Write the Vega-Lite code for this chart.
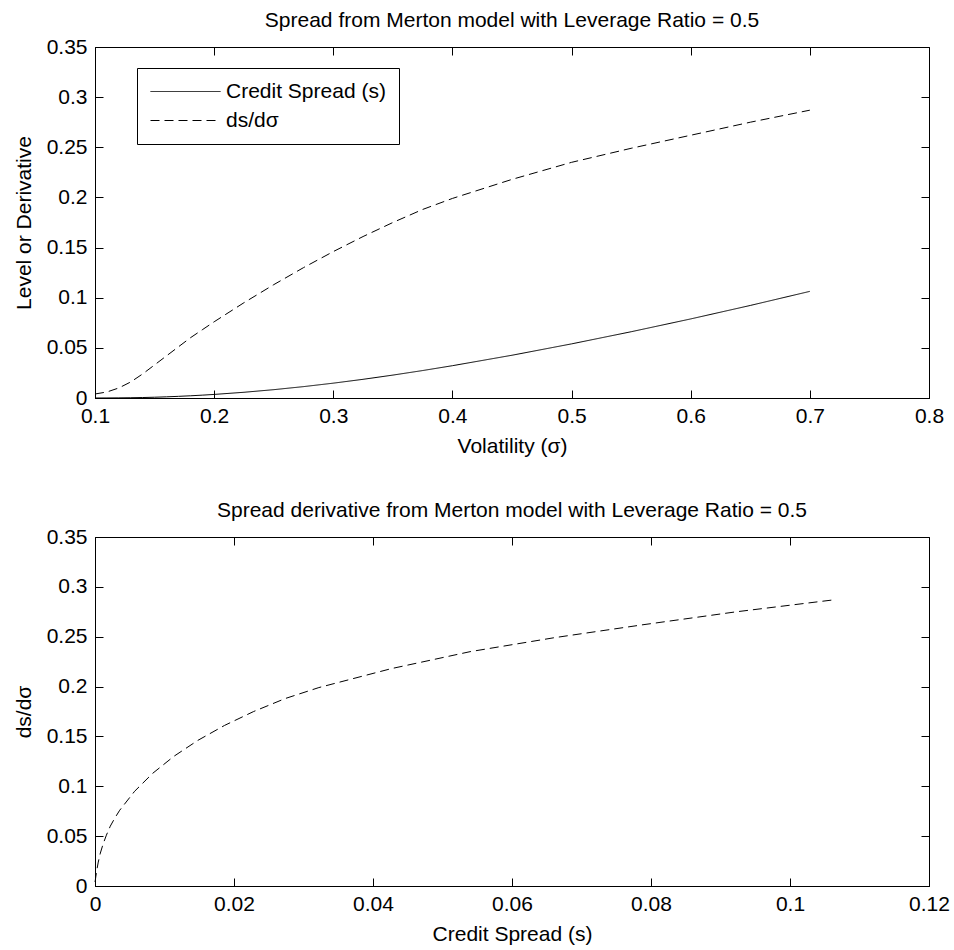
{
  "$schema": "https://vega.github.io/schema/vega-lite/v6.json",
  "background": "white",
  "padding": {"left": 12, "top": 9, "right": 10, "bottom": 5},
  "config": {
    "font": "Liberation Sans",
    "view": {"stroke": "black", "strokeWidth": 1},
    "axis": {
      "labelFont": "Liberation Sans", "labelFontSize": 21, "labelColor": "black",
      "titleFont": "Liberation Sans", "titleFontSize": 21, "titleFontWeight": "normal", "titleColor": "black",
      "domainColor": "black", "tickColor": "black", "grid": false,
      "labelFlush": false, "labelOverlap": false, "labelBound": false,
      "tickSize": -8, "labelExpr": "toString(datum.value)"
    },
    "title": {"font": "Liberation Sans", "fontSize": 21, "fontWeight": "normal", "color": "black", "offset": 5},
    "concat": {"spacing": 42}
  },
  "datasets": {
    "merton": [
      {"sigma": 0.10, "spread": 0.00000, "deriv": 0.004},
      {"sigma": 0.11, "spread": 0.00005, "deriv": 0.006},
      {"sigma": 0.12, "spread": 0.00013, "deriv": 0.010},
      {"sigma": 0.13, "spread": 0.00026, "deriv": 0.016},
      {"sigma": 0.14, "spread": 0.00047, "deriv": 0.024},
      {"sigma": 0.15, "spread": 0.00077, "deriv": 0.033},
      {"sigma": 0.16, "spread": 0.00116, "deriv": 0.042},
      {"sigma": 0.17, "spread": 0.00164, "deriv": 0.051},
      {"sigma": 0.18, "spread": 0.00220, "deriv": 0.060},
      {"sigma": 0.19, "spread": 0.00284, "deriv": 0.068},
      {"sigma": 0.20, "spread": 0.00356, "deriv": 0.076},
      {"sigma": 0.225, "spread": 0.00570, "deriv": 0.095},
      {"sigma": 0.25, "spread": 0.00830, "deriv": 0.113},
      {"sigma": 0.275, "spread": 0.01134, "deriv": 0.130},
      {"sigma": 0.30, "spread": 0.01479, "deriv": 0.146},
      {"sigma": 0.325, "spread": 0.01863, "deriv": 0.161},
      {"sigma": 0.35, "spread": 0.02283, "deriv": 0.175},
      {"sigma": 0.375, "spread": 0.02737, "deriv": 0.188},
      {"sigma": 0.40, "spread": 0.03221, "deriv": 0.199},
      {"sigma": 0.45, "spread": 0.04264, "deriv": 0.218},
      {"sigma": 0.50, "spread": 0.05397, "deriv": 0.235},
      {"sigma": 0.55, "spread": 0.06607, "deriv": 0.249},
      {"sigma": 0.60, "spread": 0.07885, "deriv": 0.262},
      {"sigma": 0.65, "spread": 0.09228, "deriv": 0.275},
      {"sigma": 0.70, "spread": 0.10633, "deriv": 0.287}
    ]
  },
  "vconcat": [
    {
      "title": {"text": "Spread from Merton model with Leverage Ratio = 0.5"},
      "width": 834,
      "height": 351,
      "data": {"name": "merton"},
      "transform": [{"fold": ["spread", "deriv"], "as": ["series", "value"]}],
      "layer": [
        {
          "mark": {"type": "line", "color": "black", "strokeWidth": 1},
          "encoding": {
            "x": {"field": "sigma", "type": "quantitative",
              "scale": {"domain": [0.1, 0.8], "nice": false, "zero": false},
              "axis": {"title": "Volatility (σ)", "values": [0.1, 0.2, 0.3, 0.4, 0.5, 0.6, 0.7, 0.8], "labelPadding": 15, "titlePadding": 9}},
            "y": {"field": "value", "type": "quantitative",
              "scale": {"domain": [0, 0.35], "nice": false},
              "axis": {"title": "Level or Derivative", "values": [0, 0.05, 0.1, 0.15, 0.2, 0.25, 0.3, 0.35], "labelPadding": 16, "titlePadding": 12}},
            "strokeDash": {"field": "series", "type": "nominal",
              "scale": {"domain": ["spread", "deriv"], "range": [[1, 0], [9, 5]]},
              "legend": {
                "title": null, "orient": "none", "legendX": 42, "legendY": 21,
                "labelExpr": "datum.value == 'spread' ? 'Credit Spread (s)' : 'ds/dσ'",
                "symbolType": "stroke", "symbolSize": 4900, "symbolStrokeWidth": 1, "symbolStrokeColor": "black",
                "labelFont": "Liberation Sans", "labelFontSize": 21, "labelColor": "black", "labelOffset": 5, "labelLimit": 400,
                "strokeColor": "black", "fillColor": "white", "padding": 13, "rowPadding": 7, "clipHeight": 21,
                "encode": {"symbols": {"update": {"strokeDash": {"signal": "datum.value == 'deriv' ? [15, 6] : [1, 0]"}}}}
              }}
          }
        },
        {
          "mark": {"type": "line", "opacity": 0},
          "encoding": {
            "x": {"field": "sigma", "type": "quantitative",
              "axis": {"orient": "top", "labels": false, "title": null, "domain": false, "minExtent": 0, "values": [0.1, 0.2, 0.3, 0.4, 0.5, 0.6, 0.7, 0.8]}},
            "y": {"field": "value", "type": "quantitative",
              "axis": {"orient": "right", "labels": false, "title": null, "domain": false, "minExtent": 0, "values": [0, 0.05, 0.1, 0.15, 0.2, 0.25, 0.3, 0.35]}}
          }
        }
      ],
      "resolve": {"axis": {"x": "independent", "y": "independent"}}
    },
    {
      "title": {"text": "Spread derivative from Merton model with Leverage Ratio = 0.5"},
      "width": 834,
      "height": 349,
      "data": {"name": "merton"},
      "layer": [
        {
          "mark": {"type": "line", "color": "black", "strokeWidth": 1, "strokeDash": [9, 5]},
          "encoding": {
            "x": {"field": "spread", "type": "quantitative",
              "scale": {"domain": [0, 0.12], "nice": false},
              "axis": {"title": "Credit Spread (s)", "values": [0, 0.02, 0.04, 0.06, 0.08, 0.1, 0.12], "labelPadding": 15, "titlePadding": 9}},
            "y": {"field": "deriv", "type": "quantitative",
              "scale": {"domain": [0, 0.35], "nice": false},
              "axis": {"title": "ds/dσ", "values": [0, 0.05, 0.1, 0.15, 0.2, 0.25, 0.3, 0.35], "labelPadding": 16, "titlePadding": 12}}
          }
        },
        {
          "mark": {"type": "line", "opacity": 0},
          "encoding": {
            "x": {"field": "spread", "type": "quantitative",
              "axis": {"orient": "top", "labels": false, "title": null, "domain": false, "minExtent": 0, "values": [0, 0.02, 0.04, 0.06, 0.08, 0.1, 0.12]}},
            "y": {"field": "deriv", "type": "quantitative",
              "axis": {"orient": "right", "labels": false, "title": null, "domain": false, "minExtent": 0, "values": [0, 0.05, 0.1, 0.15, 0.2, 0.25, 0.3, 0.35]}}
          }
        }
      ],
      "resolve": {"axis": {"x": "independent", "y": "independent"}}
    }
  ]
}
